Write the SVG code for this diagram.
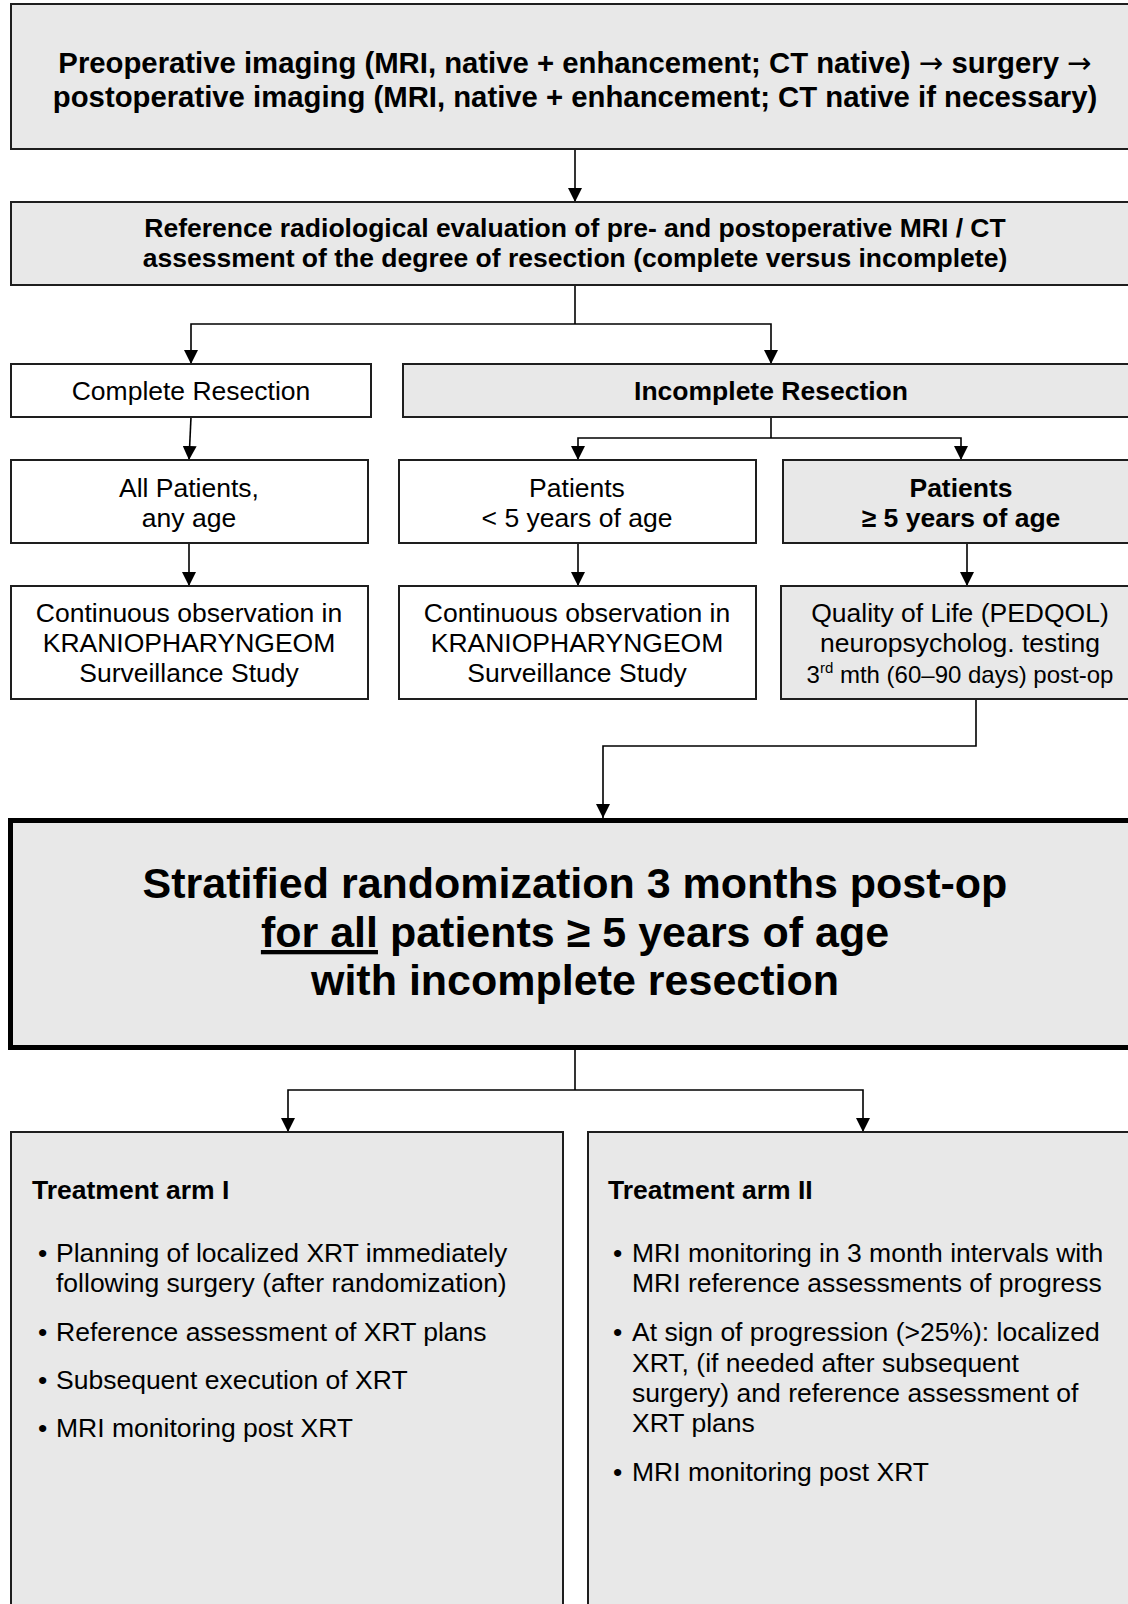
<svg xmlns="http://www.w3.org/2000/svg" width="1128" height="1604" viewBox="0 0 1128 1604">
<defs>
<style>
.box{fill:#fff;stroke:#1e1e1e;stroke-width:2}
.gray{fill:#e8e8e8;stroke:#1e1e1e;stroke-width:2}
.big{fill:#e8e8e8;stroke:#000;stroke-width:5}
text{font-family:"Liberation Sans",Arial,Helvetica,sans-serif;fill:#000}
.c{text-anchor:middle}
.r{font-size:26.5px}
.b{font-size:26.5px;font-weight:bold}
.t{font-size:29.3px;font-weight:bold}
.h{font-size:43px;font-weight:bold}
.arr{font-family:"DejaVu Sans",sans-serif;font-weight:normal}
.conn path{fill:none;stroke:#000;stroke-width:1.6}
</style>
<marker id="ah" markerUnits="userSpaceOnUse" markerWidth="14" markerHeight="14" viewBox="0 0 14 14" refX="14" refY="7" orient="auto">
<path d="M0,0 L14,7 L0,14 z" fill="#000"/>
</marker>
</defs>
<rect width="1128" height="1604" fill="#fff"/>

<g id="connectors" class="conn">
<path d="M575,149 V202" marker-end="url(#ah)"/>
<path d="M575,285 V324"/>
<path d="M575,324 H191 V364" marker-end="url(#ah)"/>
<path d="M575,324 H771 V364" marker-end="url(#ah)"/>
<path d="M191,417 L189,460" marker-end="url(#ah)"/>
<path d="M771,417 V438"/>
<path d="M771,438 H578 V460" marker-end="url(#ah)"/>
<path d="M771,438 H961 V460" marker-end="url(#ah)"/>
<path d="M189,543 V586" marker-end="url(#ah)"/>
<path d="M578,543 V586" marker-end="url(#ah)"/>
<path d="M967,543 V586" marker-end="url(#ah)"/>
<path d="M976,699 V746 H603 V818" marker-end="url(#ah)"/>
<path d="M575,1050 V1090"/>
<path d="M575,1090 H288 V1132" marker-end="url(#ah)"/>
<path d="M575,1090 H863 V1132" marker-end="url(#ah)"/>
</g>

<g id="imaging">
<rect class="gray" x="11" y="4" width="1128" height="145"/>
<text class="t c" x="575" y="73">Preoperative imaging (MRI, native + enhancement; CT native) <tspan class="arr">→</tspan> surgery <tspan class="arr">→</tspan></text>
<text class="t c" x="575" y="107">postoperative imaging (MRI, native + enhancement; CT native if necessary)</text>
</g>

<g id="evaluation">
<rect class="gray" x="11" y="202" width="1128" height="83"/>
<text class="b c" x="575" y="237">Reference radiological evaluation of pre- and postoperative MRI / CT</text>
<text class="b c" x="575" y="267">assessment of the degree of resection (complete versus incomplete)</text>
</g>

<g id="complete">
<rect class="box" x="11" y="364" width="360" height="53"/>
<text class="r c" x="191" y="400">Complete Resection</text>
</g>

<g id="incomplete">
<rect class="gray" x="403" y="364" width="736" height="53"/>
<text class="b c" x="771" y="400">Incomplete Resection</text>
</g>

<g id="all-patients">
<rect class="box" x="11" y="460" width="357" height="83"/>
<text class="r c" x="189" y="497">All Patients,</text>
<text class="r c" x="189" y="527">any age</text>
</g>

<g id="under5">
<rect class="box" x="399" y="460" width="357" height="83"/>
<text class="r c" x="577" y="497">Patients</text>
<text class="r c" x="577" y="527">&lt; 5 years of age</text>
</g>

<g id="over5">
<rect class="gray" x="783" y="460" width="356" height="83"/>
<text class="b c" x="961" y="497">Patients</text>
<text class="b c" x="961" y="527">≥ 5 years of age</text>
</g>

<g id="observation1">
<rect class="box" x="11" y="586" width="357" height="113"/>
<text class="r c" x="189" y="622">Continuous observation in</text>
<text class="r c" x="189" y="652">KRANIOPHARYNGEOM</text>
<text class="r c" x="189" y="682">Surveillance Study</text>
</g>

<g id="observation2">
<rect class="box" x="399" y="586" width="357" height="113"/>
<text class="r c" x="577" y="622">Continuous observation in</text>
<text class="r c" x="577" y="652">KRANIOPHARYNGEOM</text>
<text class="r c" x="577" y="682">Surveillance Study</text>
</g>

<g id="qol">
<rect class="gray" x="781" y="586" width="358" height="113"/>
<text class="r c" x="960" y="622">Quality of Life (PEDQOL)</text>
<text class="r c" x="960" y="652">neuropsycholog. testing</text>
<text class="c" x="960" y="683" font-size="24">3<tspan font-size="15" dy="-10">rd</tspan><tspan dy="10"> mth (60–90 days) post-op</tspan></text>
</g>

<g id="randomization">
<rect class="big" x="10.5" y="820.5" width="1130" height="227"/>
<text class="h c" x="575" y="898">Stratified randomization 3 months post-op</text>
<text class="h c" x="575" y="947"><tspan text-decoration="underline">for all</tspan> patients ≥ 5 years of age</text>
<text class="h c" x="575" y="995">with incomplete resection</text>
</g>

<g id="arm1">
<rect class="gray" x="11" y="1132" width="552" height="490"/>
<text class="b" x="32" y="1199">Treatment arm I</text>
<text class="r" x="38" y="1262">•</text>
<text class="r" x="56" y="1262">Planning of localized XRT immediately</text>
<text class="r" x="56" y="1292">following surgery (after randomization)</text>
<text class="r" x="38" y="1341">•</text>
<text class="r" x="56" y="1341">Reference assessment of XRT plans</text>
<text class="r" x="38" y="1389">•</text>
<text class="r" x="56" y="1389">Subsequent execution of XRT</text>
<text class="r" x="38" y="1437">•</text>
<text class="r" x="56" y="1437">MRI monitoring post XRT</text>
</g>

<g id="arm2">
<rect class="gray" x="588" y="1132" width="551" height="490"/>
<text class="b" x="608" y="1199">Treatment arm II</text>
<text class="r" x="613" y="1262">•</text>
<text class="r" x="632" y="1262">MRI monitoring in 3 month intervals with</text>
<text class="r" x="632" y="1292">MRI reference assessments of progress</text>
<text class="r" x="613" y="1341">•</text>
<text class="r" x="632" y="1341">At sign of progression (&gt;25%): localized</text>
<text class="r" x="632" y="1372">XRT, (if needed after subsequent</text>
<text class="r" x="632" y="1402">surgery) and reference assessment of</text>
<text class="r" x="632" y="1432">XRT plans</text>
<text class="r" x="613" y="1481">•</text>
<text class="r" x="632" y="1481">MRI monitoring post XRT</text>
</g>
</svg>
